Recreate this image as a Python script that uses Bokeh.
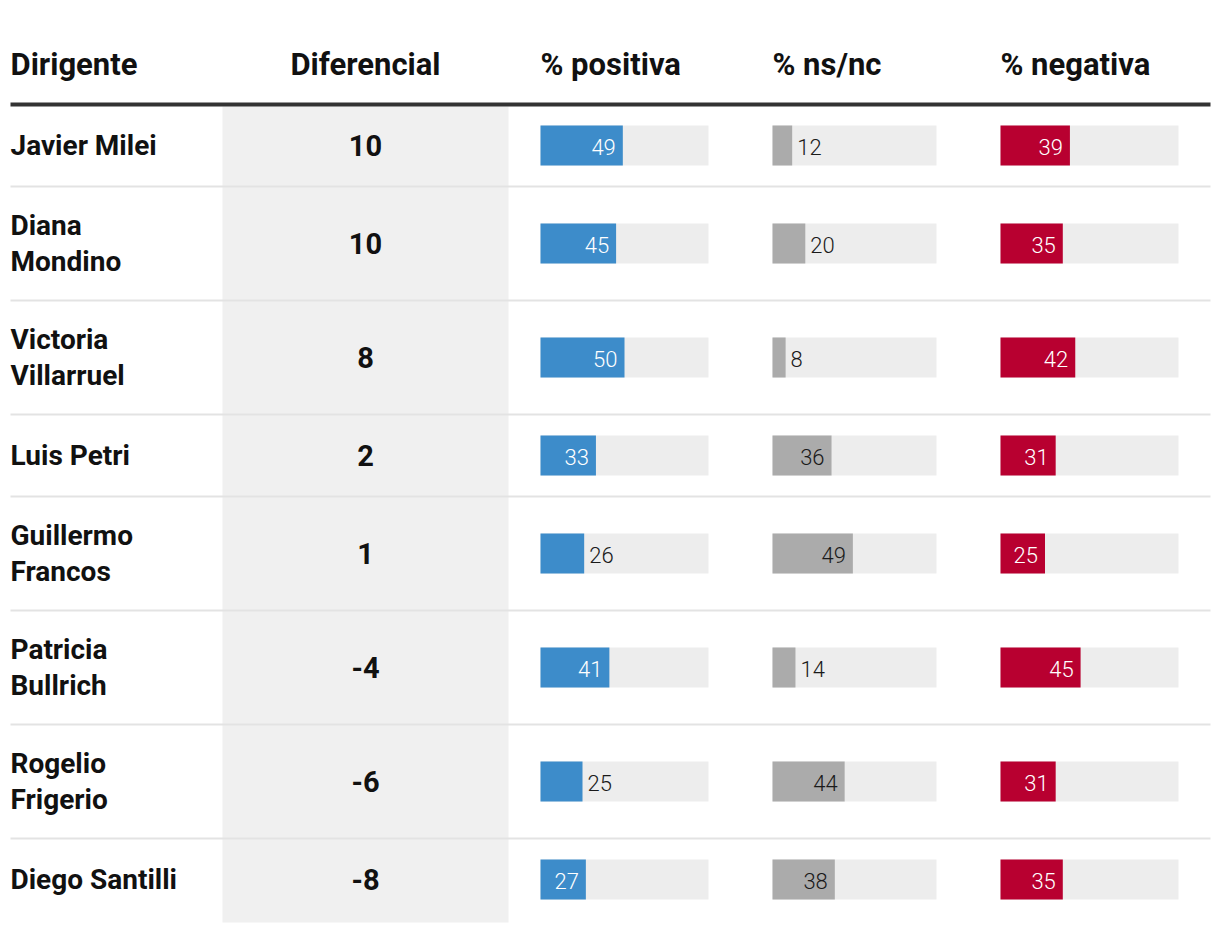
from bokeh.plotting import figure
from bokeh.models import Range1d, ColumnDataSource
from bokeh.core.properties import value
from bokeh.embed import file_html
from bokeh.resources import INLINE

# ---- data ----
name_lines = [["Javier Milei"], ["Diana", "Mondino"], ["Victoria", "Villarruel"],
              ["Luis Petri"], ["Guillermo", "Francos"], ["Patricia", "Bullrich"],
              ["Rogelio", "Frigerio"], ["Diego Santilli"]]
diferencial = [10, 10, 8, 2, 1, -4, -6, -8]
positiva = [49, 45, 50, 33, 26, 41, 25, 27]
nsnc = [12, 20, 8, 36, 49, 14, 44, 38]
negativa = [39, 35, 42, 31, 25, 45, 31, 35]
headers = ["Dirigente", "Diferencial", "% positiva", "% ns/nc", "% negativa"]

# ---- layout / style ----
W, H = 1220, 932
TXT = "#111111"
BOLD_FONT = value("Roboto")
NUM_FONT = value("Roboto Light")
BLUE, GREY, RED = "#3d8cca", "#ababab", "#b80030"
BG = "#ededed"
BL = 0.36  # baseline correction (fraction of font size)

p = figure(width=W, height=H, x_range=Range1d(0, W), y_range=Range1d(H, 0),
           output_backend="svg", toolbar_location=None, min_border=0,
           x_axis_type=None, y_axis_type=None)
p.grid.visible = False
p.outline_line_color = None
p.background_fill_color = "white"
p.border_fill_color = "white"

left_x = 10
right_x = 1210
header_line_y = 104
row_pitch = {1: 82, 2: 114}

bounds = [header_line_y]
for nl in name_lines:
    bounds.append(bounds[-1] + row_pitch[len(nl)])
centers = [(bounds[i] + bounds[i + 1]) / 2 for i in range(len(name_lines))]

# grey band for "Diferencial"
band_l, band_r = 222, 508
p.quad(left=[band_l], right=[band_r], top=[header_line_y + 2], bottom=[bounds[-1] + 2],
       fill_color="#f0f0f0", line_color=None)

# separators
sep_y = bounds[1:-1]
p.segment(x0=[left_x] * len(sep_y), x1=[right_x] * len(sep_y), y0=sep_y, y1=sep_y,
          line_color="#e3e3e3", line_width=2)
# header line
p.segment(x0=[left_x], x1=[right_x], y0=[header_line_y], y1=[header_line_y],
          line_color="#333333", line_width=4)

def base(y, size):
    return y - BL * size

# headers
col_x = {"pos": 540, "ns": 772, "neg": 1000}
col_w = {"pos": 168, "ns": 164, "neg": 178}
hx = [left_x, (band_l + band_r) / 2, col_x["pos"], col_x["ns"], col_x["neg"]]
halign = ["left", "center", "left", "left", "left"]
p.text(x=hx, y=[base(75, 31)] * 5, text=headers, text_align=halign, text_baseline="alphabetic",
       text_font=BOLD_FONT, text_font_style="bold", text_font_size="31px", text_color=TXT)

# names
nx, ny, nt = [], [], []
for c, nl in zip(centers, name_lines):
    k = len(nl)
    for j, line in enumerate(nl):
        off = (j - (k - 1) / 2) * 36
        nx.append(left_x)
        ny.append(base(c + 10.5 + off, 28))
        nt.append(line)
p.text(x=nx, y=ny, text=nt, text_align="left", text_baseline="alphabetic",
       text_font=BOLD_FONT, text_font_style="bold", text_font_size="28px", text_color=TXT)

# diferencial
p.text(x=[(band_l + band_r) / 2] * len(centers), y=[base(c + 10.5, 29) for c in centers],
       text=[str(d) for d in diferencial], text_align="center", text_baseline="alphabetic",
       text_font=BOLD_FONT, text_font_style="bold", text_font_size="29px", text_color=TXT)

# bars
bar_h = 40
for key, vals, color, inside_col in [("pos", positiva, BLUE, "white"),
                                     ("ns", nsnc, GREY, "#1a1a1a"),
                                     ("neg", negativa, RED, "white")]:
    x0, w = col_x[key], col_w[key]
    src = ColumnDataSource(dict(y=centers, left=[x0] * len(vals),
                                right=[x0 + v / 100 * w for v in vals],
                                full=[x0 + w] * len(vals)))
    p.hbar(y="y", left="left", right="full", height=bar_h, source=src,
           fill_color=BG, line_color=None)
    p.hbar(y="y", left="left", right="right", height=bar_h, source=src,
           fill_color=color, line_color=None)
    ix, iy, it, ox, oy, ot = [], [], [], [], [], []
    for c, v in zip(centers, vals):
        end = x0 + v / 100 * w
        if v / 100 * w >= 44:
            ix.append(end - 7); iy.append(base(c + 9, 22)); it.append(str(v))
        else:
            ox.append(end + 5); oy.append(base(c + 9, 22)); ot.append(str(v))
    p.text(x=ix, y=iy, text=it, text_align="right", text_baseline="alphabetic",
           text_font=NUM_FONT, text_font_size="22px", text_color=inside_col)
    p.text(x=ox, y=oy, text=ot, text_align="left", text_baseline="alphabetic",
           text_font=NUM_FONT, text_font_size="22px", text_color="#1a1a1a")

open("out.html", "w").write(file_html(p, INLINE))
